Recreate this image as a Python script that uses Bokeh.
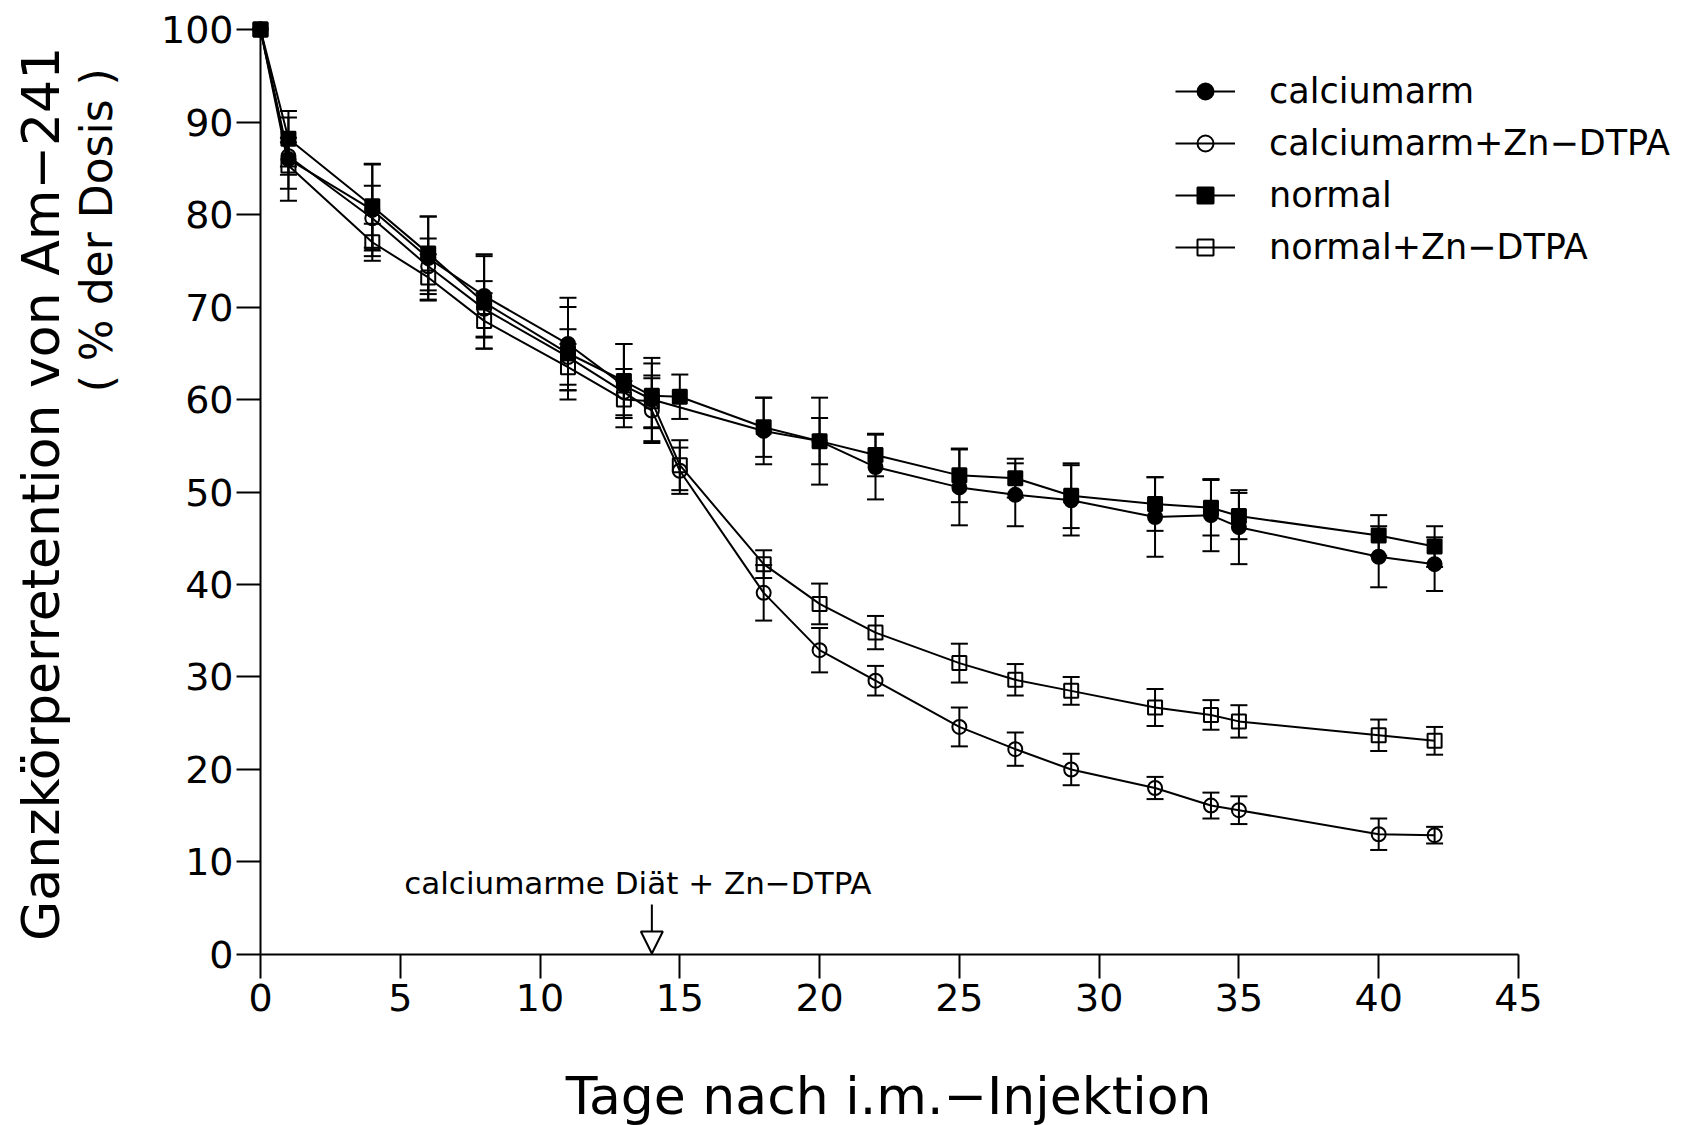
import math
from bokeh.plotting import figure
from bokeh.models import (ColumnDataSource, Whisker, TeeHead, FixedTicker, Range1d,
                          Legend, LegendItem, Label, Arrow, NormalHead)
from bokeh.embed import file_html
from bokeh.resources import INLINE

# ---------------- data ----------------
days_all = [0, 1, 4, 6, 8, 11, 13, 14, 15, 18, 20, 22, 25, 27, 29, 32, 34, 35, 40, 42]
days_ca = [0, 1, 4, 6, 8, 11, 13, 14, 18, 20, 22, 25, 27, 29, 32, 34, 35, 40, 42]

ca_val = [100, 86.0, 80.5, 75.3, 71.2, 66.0, 61.5, 60.0, 56.6, 55.5, 52.7, 50.5, 49.7, 49.1, 47.3, 47.5, 46.2, 43.0, 42.2]
ca_err = [0, 4.5, 5.0, 4.5, 4.5, 5.0, 4.5, 4.5, 3.6, 4.7, 3.5, 4.1, 3.4, 3.8, 4.3, 3.9, 4.0, 3.3, 2.9]

caz_val = [100, 86.3, 79.6, 74.4, 69.8, 64.6, 60.8, 58.8, 52.3, 39.1, 32.9, 29.6, 24.6, 22.2, 20.0, 18.0, 16.1, 15.6, 13.0, 12.9]
caz_err = [0, 2.0, 3.5, 3.0, 3.0, 3.0, 2.5, 3.5, 2.5, 3.0, 2.4, 1.6, 2.1, 1.8, 1.7, 1.2, 1.4, 1.5, 1.7, 0.9]

no_val = [100, 88.2, 80.9, 75.8, 70.5, 65.0, 62.0, 60.4, 60.3, 57.0, 55.5, 54.0, 51.8, 51.5, 49.6, 48.7, 48.3, 47.4, 45.3, 44.1]
no_err = [0, 3.0, 4.5, 4.0, 5.0, 5.0, 4.0, 3.5, 2.4, 3.2, 2.5, 2.3, 2.9, 2.1, 3.5, 2.9, 3.0, 2.5, 2.2, 2.2]

noz_val = [100, 85.3, 77.0, 73.2, 68.5, 63.5, 60.0, 59.8, 52.9, 42.2, 37.9, 34.8, 31.5, 29.7, 28.5, 26.7, 25.9, 25.2, 23.7, 23.1]
noz_err = [0, 2.5, 2.0, 2.5, 3.0, 2.5, 2.0, 2.8, 2.7, 1.5, 2.2, 1.8, 2.1, 1.7, 1.5, 2.0, 1.6, 1.75, 1.7, 1.5]

labels = ["calciumarm", "calciumarm+Zn\u2212DTPA", "normal", "normal+Zn\u2212DTPA"]
x_ticks = [0, 5, 10, 15, 20, 25, 30, 35, 40, 45]
y_ticks = [0, 10, 20, 30, 40, 50, 60, 70, 80, 90, 100]

x_title = "Tage nach i.m.\u2212Injektion"
y_title1 = "Ganzk\u00f6rperretention von Am\u2212241"
y_title2 = "( % der Dosis )"
note = "calciumarme Di\u00e4t + Zn\u2212DTPA"
DIET_START_DAY = 14

FONT = "DejaVu Sans"

W, H = 1698, 1125
p = figure(width=W, height=H, output_backend="svg", toolbar_location=None,
           x_range=Range1d(-9.30, 51.44), y_range=Range1d(-18.49, 103.14),
           min_border=0)
p.outline_line_color = None
p.grid.visible = False
p.background_fill_color = "white"
p.border_fill_color = "white"

for ax, ticks in ((p.xaxis, x_ticks), (p.yaxis, y_ticks)):
    ax.ticker = FixedTicker(ticks=ticks)
    ax.fixed_location = 0
    ax.bounds = (ticks[0], ticks[-1])
    ax.axis_line_width = 2
    ax.axis_line_color = "black"
    ax.major_tick_line_width = 2
    ax.major_tick_line_color = "black"
    ax.major_tick_out = 24
    ax.major_tick_in = 0
    ax.minor_tick_line_color = None
    ax.major_label_text_font = FONT
    ax.major_label_text_font_size = "38px"
    ax.major_label_text_color = "black"
p.xaxis.major_label_standoff = 6
p.yaxis.major_label_standoff = 3

series = [
    (days_ca, ca_val, ca_err, "circle", "black"),
    (days_all, caz_val, caz_err, "circle", None),
    (days_all, no_val, no_err, "square", "black"),
    (days_all, noz_val, noz_err, "square", None),
]

items = []
for (d, v, e, mk, fill), lab in zip(series, labels):
    src = ColumnDataSource(dict(x=d, y=v,
                                lo=[a - b for a, b in zip(v, e)],
                                hi=[a + b for a, b in zip(v, e)]))
    wsrc = ColumnDataSource(dict(x=d[1:], lo=src.data["lo"][1:], hi=src.data["hi"][1:]))
    w = Whisker(base="x", lower="lo", upper="hi", source=wsrc, line_color="black", line_width=2,
                upper_head=TeeHead(size=17, line_width=2, line_color="black"),
                lower_head=TeeHead(size=17, line_width=2, line_color="black"))
    p.add_layout(w)
    lr = p.line("x", "y", source=src, line_color="black", line_width=2)
    if fill:
        sr = p.scatter("x", "y", source=src, marker=mk, size=14, fill_color="black", line_color="black", line_width=2)
    else:
        sr = p.scatter("x", "y", source=src, marker=mk, size=14, fill_color="white", fill_alpha=0.0,
                       line_color="black", line_width=2)
    items.append(LegendItem(label=lab, renderers=[lr, sr]))

legend = Legend(items=items, location=(1175, 858), orientation="vertical",
                glyph_width=60, glyph_height=40, label_standoff=34, spacing=12,
                padding=0, margin=0, border_line_color=None, background_fill_alpha=0,
                label_text_font=FONT, label_text_font_size="35px", label_text_color="black")
p.add_layout(legend, "center")

# axis titles
p.add_layout(Label(x=-7.85, y=49.8, text=y_title1, angle=math.pi / 2, text_align="center",
                   text_baseline="middle", text_font=FONT, text_font_size="52px", text_color="black"))
p.add_layout(Label(x=-5.85, y=78.3, text=y_title2, angle=math.pi / 2, text_align="center",
                   text_baseline="middle", text_font=FONT, text_font_size="44px", text_color="black"))
p.add_layout(Label(x=22.47, y=-15.35, text=x_title, text_align="center",
                   text_baseline="middle", text_font=FONT, text_font_size="52px", text_color="black"))

# annotation
p.add_layout(Label(x=13.5, y=7.7, text=note, text_align="center", text_baseline="middle",
                   text_font=FONT, text_font_size="31px", text_color="black"))
p.add_layout(Arrow(x_start=DIET_START_DAY, y_start=5.4, x_end=DIET_START_DAY, y_end=0.1,
                   line_color="black", line_width=2,
                   end=NormalHead(size=22, fill_color="white", line_color="black", line_width=2)))

open("out.html", "w").write(file_html(p, INLINE))
